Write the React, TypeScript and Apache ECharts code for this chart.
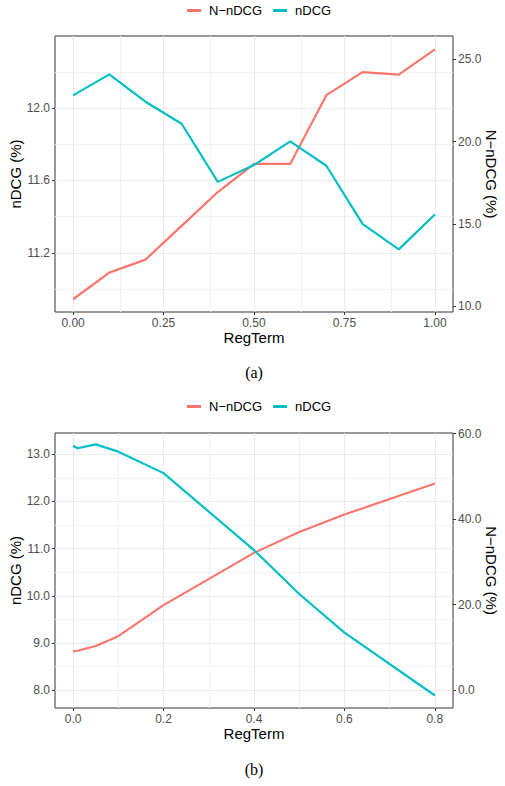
import React, { useEffect, useRef } from "react";
import * as echarts from "echarts";

// ---- data: panel (a) ----
const regTermA = [0, 0.1, 0.2, 0.3, 0.4, 0.5, 0.6, 0.7, 0.8, 0.9, 1.0];
const nDCG_A = [12.07, 12.186, 12.035, 11.913, 11.592, 11.685, 11.816, 11.681, 11.36, 11.219, 11.412];
const nnDCG_A = [10.41, 12.03, 12.82, 14.87, 16.93, 18.64, 18.64, 22.82, 24.22, 24.07, 25.61];

// ---- data: panel (b) ----
const regTermB = [0, 0.01, 0.05, 0.1, 0.2, 0.4, 0.5, 0.6, 0.8];
const nDCG_B = [13.18, 13.127, 13.21, 13.055, 12.6, 10.97, 10.04, 9.22, 7.89];
const nnDCG_B = [9.06, 9.2, 10.3, 12.6, 19.88, 32.1, 37.0, 41.06, 48.35];

// ---- tick labels / breaks ----
const xTicksA = [0, 0.25, 0.5, 0.75, 1.0];
const xMinorA = [0.125, 0.375, 0.625, 0.875];
const yLeftTicksA = [11.2, 11.6, 12.0];
const yLeftMinorA = [11.0, 11.4, 11.8, 12.2];
const yRightTicksA = [10, 15, 20, 25];

const xTicksB = [0, 0.2, 0.4, 0.6, 0.8];
const xMinorB = [0.1, 0.3, 0.5, 0.7];
const yLeftTicksB = [8, 9, 10, 11, 12, 13];
const yLeftMinorB = [8.5, 9.5, 10.5, 11.5, 12.5];
const yRightTicksB = [0, 20, 40, 60];

const seriesNames = ["N\u2212nDCG", "nDCG"];
const captions = ["(a)", "(b)"];

const RED = "#F8766D";
const TEAL = "#00BFC4";
const SANS = '"Liberation Sans", Arial, Helvetica, sans-serif';
const SERIF = '"Liberation Serif", "DejaVu Serif", serif';
const GRID_MAJOR = "#ebebeb";
const GRID_MINOR = "#f2f2f2";

function xAxis(gridIndex: number, min: number, max: number, ticks: number[], digits: number) {
  return {
    type: "value",
    gridIndex,
    min,
    max,
    axisLine: { show: false, onZero: false },
    axisTick: { show: true, customValues: ticks, length: 3, lineStyle: { color: "#333333", width: 1 } },
    axisLabel: {
      customValues: ticks,
      formatter: (v: number) => v.toFixed(digits),
      color: "#4d4d4d",
      fontSize: 12,
      fontFamily: SANS,
      margin: 5,
    },
    splitLine: { show: false },
    name: "RegTerm",
    nameLocation: "middle",
    nameGap: 18,
    nameMoveOverlap: false,
    nameTextStyle: { color: "#000", fontSize: 15, fontFamily: SANS },
  };
}

function yAxis(
  gridIndex: number,
  position: "left" | "right",
  min: number,
  max: number,
  ticks: number[],
  name: string
) {
  return {
    type: "value",
    gridIndex,
    position,
    min,
    max,
    axisLine: { show: false, onZero: false },
    axisTick: { show: true, customValues: ticks, length: 3, lineStyle: { color: "#333333", width: 1 } },
    axisLabel: {
      customValues: ticks,
      formatter: (v: number) => v.toFixed(1),
      color: "#4d4d4d",
      fontSize: 12,
      fontFamily: SANS,
      margin: 5,
    },
    splitLine: { show: false },
    name,
    nameLocation: "middle",
    nameRotate: position === "left" ? 90 : -90,
    nameGap: position === "left" ? 32 : 31,
    nameMoveOverlap: false,
    nameTextStyle: { color: "#000", fontSize: 15, fontFamily: SANS },
  };
}

function gridLines(
  xIdx: number,
  yIdx: number,
  xs: number[],
  ys: number[],
  xMajor: number[],
  xMinor: number[],
  yMajor: number[],
  yMinor: number[]
) {
  const minorStyle = { color: GRID_MINOR, width: 1, type: "solid" };
  const majorStyle = { color: GRID_MAJOR, width: 1, type: "solid" };
  return {
    type: "line",
    name: "_grid",
    xAxisIndex: xIdx,
    yAxisIndex: yIdx,
    data: xs.map((x, i) => [x, ys[i]]),
    showSymbol: false,
    symbol: "none",
    lineStyle: { opacity: 0 },
    silent: true,
    z: 0,
    markLine: {
      silent: true,
      z: 1,
      symbol: ["none", "none"],
      label: { show: false },
      emphasis: { disabled: true },
      data: [
        ...xMinor.map((v) => ({ xAxis: v, lineStyle: minorStyle })),
        ...yMinor.map((v) => ({ yAxis: v, lineStyle: minorStyle })),
        ...xMajor.map((v) => ({ xAxis: v, lineStyle: majorStyle })),
        ...yMajor.map((v) => ({ yAxis: v, lineStyle: majorStyle })),
      ],
    },
  };
}

function dataLine(name: string, color: string, xIdx: number, yIdx: number, xs: number[], ys: number[]) {
  return {
    type: "line",
    name,
    xAxisIndex: xIdx,
    yAxisIndex: yIdx,
    data: xs.map((x, i) => [x, ys[i]]),
    showSymbol: false,
    symbol: "none",
    color,
    lineStyle: { color, width: 2.2 },
    z: 3,
  };
}

function legend(top: number) {
  return {
    show: true,
    data: seriesNames,
    left: 182,
    top,
    icon: "rect",
    itemWidth: 14,
    itemHeight: 3,
    itemGap: 11,
    selectedMode: false,
    textStyle: { color: "#000", fontSize: 13, fontFamily: SANS, padding: [0, 0, 0, 3] },
  };
}

export default function App() {
  const ref = useRef<HTMLDivElement>(null);

  useEffect(() => {
    if (!ref.current) return;
    const chart = echarts.init(ref.current, undefined, { renderer: "svg" });
    const gridBase = {
      show: true,
      borderColor: "#333333",
      borderWidth: 1,
      backgroundColor: "#ffffff",
      containLabel: false,
      outerBoundsMode: "none",
    };
    const option = {
      animation: false,
      backgroundColor: "#ffffff",
      legend: [legend(-1), legend(395)],
      grid: [
        { ...gridBase, left: 55, top: 36, width: 398, height: 276 },
        { ...gridBase, left: 55, top: 433, width: 398, height: 275 },
      ],
      xAxis: [xAxis(0, -0.05, 1.05, xTicksA, 2), xAxis(1, -0.04, 0.84, xTicksB, 1)],
      yAxis: [
        yAxis(0, "left", 10.873, 12.398, yLeftTicksA, "nDCG (%)"),
        yAxis(0, "right", 9.635, 26.42, yRightTicksA, "N\u2212nDCG (%)"),
        yAxis(1, "left", 7.625, 13.45, yLeftTicksB, "nDCG (%)"),
        yAxis(1, "right", -4.2, 60.15, yRightTicksB, "N\u2212nDCG (%)"),
      ],
      series: [
        gridLines(0, 0, regTermA, nDCG_A, xTicksA, xMinorA, yLeftTicksA, yLeftMinorA),
        dataLine(seriesNames[0], RED, 0, 1, regTermA, nnDCG_A),
        dataLine(seriesNames[1], TEAL, 0, 0, regTermA, nDCG_A),
        gridLines(1, 2, regTermB, nDCG_B, xTicksB, xMinorB, yLeftTicksB, yLeftMinorB),
        dataLine(seriesNames[0], RED, 1, 3, regTermB, nnDCG_B),
        dataLine(seriesNames[1], TEAL, 1, 2, regTermB, nDCG_B),
      ],
      graphic: [
        {
          type: "text",
          x: 254,
          y: 372,
          style: { text: captions[0], fill: "#000", fontSize: 16, fontFamily: SERIF, textAlign: "center", textVerticalAlign: "middle" },
        },
        {
          type: "text",
          x: 254,
          y: 769,
          style: { text: captions[1], fill: "#000", fontSize: 16, fontFamily: SERIF, textAlign: "center", textVerticalAlign: "middle" },
        },
      ],
    };
    chart.setOption(option as any);
    return () => chart.dispose();
  }, []);

  return (
    <div
      ref={ref}
      style={{ position: "absolute", left: 0, top: 0, width: 505, height: 786, background: "#fff" }}
    />
  );
}
